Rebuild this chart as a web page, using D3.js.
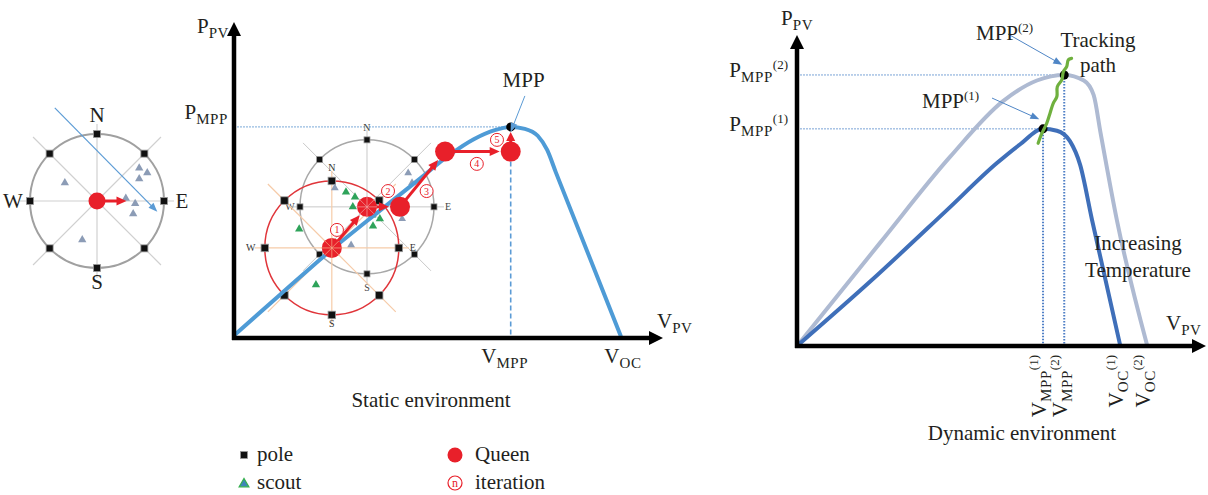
<!DOCTYPE html>
<html><head><meta charset="utf-8">
<script src="https://cdn.jsdelivr.net/npm/d3@7"></script>
<style>
html,body{margin:0;padding:0;background:#fff;}
svg{display:block;}
text{font-family:"Liberation Serif","DejaVu Serif",serif;fill:#231f20;}
</style></head><body>
<svg id="c" width="1208" height="495"></svg>
<script>
// ================= DATA =================
// Static environment P-V curve (V, P in % of axis length)
const staticV = [0, 11, 22.8, 34, 43.5, 50.3, 56, 60.8, 64.5, 67.8, 70.8, 73, 75, 90.2];
const staticP = [0.8, 14, 28, 40.3, 50.6, 58, 63, 65.8, 66.8, 66.2, 64, 59.5, 52.5, 0.5];
const staticMpp = [64.5, 66.8];
// Queen positions per iteration
const queenV = [22.8, 31, 38.7, 49.2, 64.5];
const queenP = [28.5, 41.5, 41.5, 59, 59];
const iterationLabels = ["1", "2", "3", "4", "5"];
const iterationV = [24.0, 35.9, 44.9, 56.6, 61.3];
const iterationP = [34.2, 46.5, 46.5, 55.1, 62.7];
// Scouts
const greenScoutV = [26.1, 28.2, 27.7, 15.2, 32.2, 34.0, 32.4, 19.1];
const greenScoutP = [46.2, 44.6, 41.5, 34.5, 38.9, 37.7, 35.4, 16.8];
const grayScoutV = [23.5, 40.6, 41.5, 39.2, 27.3];
const grayScoutP = [47.5, 52.2, 49.1, 37.7, 29.4];
const compassDirs = ["N", "E", "S", "W"];
// Left stand-alone compass (relative units of the radius)
const leftScoutX = [-0.48, 0.63, 0.75, 0.63, 0.43, 0.57, 0.54, -0.22];
const leftScoutY = [0.27, 0.49, 0.42, 0.33, 0.04, -0.04, -0.19, -0.58];
const leftMoveTo = [0.44, 0];
const leftWindFrom = [-0.63, 1.39];
const leftWindTo = [0.90, -0.16];
// Dynamic environment curves
const dyn1V = [0, 18, 36.8, 49.0, 54.7, 60.3, 63.7, 66.9, 69.4, 72.3, 79.2];
const dyn1P = [0, 21, 44.2, 59.4, 65.5, 70.5, 69.9, 66.5, 58.8, 41.0, 0.3];
const dyn2V = [0, 20.3, 37.5, 50.5, 58.8, 65.5, 70.3, 72.7, 74.4, 78.4, 85.8];
const dyn2P = [0, 33.4, 61.4, 79.5, 86.2, 88.0, 86.2, 81.5, 69.2, 40.9, 0.3];
const dynMppV = [60.3, 65.5];
const dynMppP = [70.5, 88.0];
const trackV = [59.1, 60.0, 61.2, 62.0, 62.8, 63.7, 63.8, 64.9, 65.3, 66.1, 66.5, 67.3];
const trackP = [65.8, 69.0, 72.3, 75.5, 78.8, 81.0, 84.2, 86.4, 89.1, 90.7, 92.9, 93.4];
const dynVocV = [79.2, 85.8];
const dynLabelIdx = ["(1)", "(2)"];

// ================= SETUP =================
const svg = d3.select("#c");
const RED = "#e8202a";
const serif = '"Liberation Serif","DejaVu Serif",serif';
const sans = '"Liberation Sans","DejaVu Sans",sans-serif';

function arrow(g, x1, y1, x2, y2, color, w, hl, hw) {
  const dx = x2 - x1, dy = y2 - y1, L = Math.hypot(dx, dy);
  const ux = dx / L, uy = dy / L;
  const bx = x2 - ux * hl, by = y2 - uy * hl;
  g.append("line").attr("x1", x1).attr("y1", y1)
    .attr("x2", x2 - ux * hl * 0.8).attr("y2", y2 - uy * hl * 0.8)
    .attr("stroke", color).attr("stroke-width", w);
  g.append("path").attr("d",
    `M${x2},${y2}L${bx - uy * hw / 2},${by + ux * hw / 2}L${bx + uy * hw / 2},${by - ux * hw / 2}Z`)
    .attr("fill", color);
}

function rich(g, x, y, parts, anchor, rotate) {
  const t = g.append("text").attr("text-anchor", anchor || "start");
  if (rotate) t.attr("transform", `translate(${x},${y}) rotate(${rotate})`);
  else t.attr("x", x).attr("y", y);
  let cur = 0;
  const off = { n: 0, sub: 5, sup: -8 };
  const fs = { n: 21, sub: 15, sup: 13 };
  parts.forEach(p => {
    const k = p[1] || "n";
    t.append("tspan").attr("dy", off[k] - cur).attr("font-size", fs[k])
      .attr("letter-spacing", k === "sub" ? 0.6 : 0).text(p[0]);
    cur = off[k];
  });
  return t;
}

function compass(g, cx, cy, r, o) {
  [0, 90].forEach(a => {
    const rad = a * Math.PI / 180, e = 1.15 * r;
    g.append("line").attr("x1", cx - Math.cos(rad) * e).attr("y1", cy - Math.sin(rad) * e)
      .attr("x2", cx + Math.cos(rad) * e).attr("y2", cy + Math.sin(rad) * e)
      .attr("stroke", o.line).attr("stroke-width", o.lw);
  });
  [45, 135].forEach(a => {
    const rad = a * Math.PI / 180, e = 1.35 * r;
    g.append("line").attr("x1", cx - Math.cos(rad) * e).attr("y1", cy - Math.sin(rad) * e)
      .attr("x2", cx + Math.cos(rad) * e).attr("y2", cy + Math.sin(rad) * e)
      .attr("stroke", o.line).attr("stroke-width", o.lw);
  });
  g.append("circle").attr("cx", cx).attr("cy", cy).attr("r", r)
    .attr("fill", "none").attr("stroke", o.circle).attr("stroke-width", o.cw);
  d3.range(8).forEach(i => {
    const a = i * Math.PI / 4;
    g.append("rect").attr("x", cx + Math.cos(a) * r - o.pole / 2).attr("y", cy + Math.sin(a) * r - o.pole / 2)
      .attr("width", o.pole).attr("height", o.pole).attr("fill", "#111")
      .attr("stroke", "#9a9a9a").attr("stroke-width", 0.8);
  });
  const dirAng = { N: [0, -1], E: [1, 0], S: [0, 1], W: [-1, 0] };
  compassDirs.forEach(d => {
    const v = dirAng[d];
    g.append("text").attr("x", cx + v[0] * (r + o.lo[d])).attr("y", cy + v[1] * (r + o.lo[d]))
      .attr("text-anchor", "middle").attr("dominant-baseline", "central")
      .attr("font-family", o.font).attr("font-size", o.fs).style("fill", o.tc).text(d);
  });
}

// ================= LEFT COMPASS =================
const lx = d3.scaleLinear().domain([-1, 1]).range([30, 164]);
const ly = d3.scaleLinear().domain([-1, 1]).range([268, 134]);
const gL = svg.append("g");
const lr = lx(1) - lx(0);
compass(gL, lx(0), ly(0), lr, { line: "#d0d0d0", lw: 1.2, circle: "#a0a0a0", cw: 2, pole: 7,
  lo: { N: 19, E: 18, S: 14, W: 17 }, font: serif, fs: 21, tc: "#231f20" });
arrow(gL, lx(leftWindFrom[0]), ly(leftWindFrom[1]), lx(leftWindTo[0]), ly(leftWindTo[1]), "#5b9bd5", 1.2, 9, 7);
leftScoutX.forEach((x, i) => {
  gL.append("path").attr("d", d3.symbol(d3.symbolTriangle, 30)())
    .attr("transform", `translate(${lx(x)},${ly(leftScoutY[i])})`).attr("fill", "#8c9cb6");
});
arrow(gL, lx(0), ly(0), lx(leftMoveTo[0]), ly(leftMoveTo[1]), RED, 3, 10, 9);
gL.append("circle").attr("cx", lx(0)).attr("cy", ly(0)).attr("r", 8.5).attr("fill", RED);

// ================= STATIC ENVIRONMENT =================
const sx = d3.scaleLinear().domain([0, 100]).range([234, 663]);
const sy = d3.scaleLinear().domain([0, 100]).range([338, 22]);
const gS = svg.append("g");
const QR = 10, CR = 67;
// reference lines
gS.append("line").attr("x1", sx(0)).attr("x2", sx(staticMpp[0])).attr("y1", sy(staticMpp[1])).attr("y2", sy(staticMpp[1]))
  .attr("stroke", "#7aaad8").attr("stroke-width", 1).attr("stroke-dasharray", "2,1");
gS.append("line").attr("x1", sx(queenV[4])).attr("x2", sx(queenV[4])).attr("y1", sy(queenP[4]) + QR).attr("y2", sy(0))
  .attr("stroke", "#5b9bd5").attr("stroke-width", 1.6).attr("stroke-dasharray", "5,3");
// compasses
compass(gS, sx(queenV[1]), sy(queenP[1]), CR, { line: "#c8c8c8", lw: 1, circle: "#a8a8a8", cw: 1.5, pole: 6,
  lo: { N: 12, E: 14, S: 14, W: 10 }, font: sans, fs: 10, tc: "#444" });
compass(gS, sx(queenV[0]), sy(queenP[0]), CR, { line: "#f6cba8", lw: 1.2, circle: "#e0353a", cw: 1.5, pole: 7.5,
  lo: { N: 13, E: 14, S: 9, W: 14 }, font: sans, fs: 10, tc: "#333" });
grayScoutV.forEach((v, i) => gS.append("path").attr("d", d3.symbol(d3.symbolTriangle, 26)())
  .attr("transform", `translate(${sx(v)},${sy(grayScoutP[i])})`).attr("fill", "#8c9cb6"));
greenScoutV.forEach((v, i) => gS.append("path").attr("d", d3.symbol(d3.symbolTriangle, 30)())
  .attr("transform", `translate(${sx(v)},${sy(greenScoutP[i])})`).attr("fill", "#2ea35a"));
// curve
const sline = d3.line().x(d => sx(d[0])).y(d => sy(d[1])).curve(d3.curveMonotoneX);
gS.append("path").attr("d", sline(staticV.map((v, i) => [v, staticP[i]])))
  .attr("fill", "none").attr("stroke", "#4e9bd6").attr("stroke-width", 4);
// axes
arrow(gS, sx(0), sy(0) + 2, sx(0), sy(100), "#000", 4.5, 14, 14);
arrow(gS, sx(0) - 2, sy(0), sx(100), sy(0), "#000", 4.5, 14, 14);
// iteration arrows
for (let i = 0; i < 4; i++) {
  const x1 = sx(queenV[i]), y1 = sy(queenP[i]), x2 = sx(queenV[i + 1]), y2 = sy(queenP[i + 1]);
  const L = Math.hypot(x2 - x1, y2 - y1);
  arrow(gS, x1, y1, x2 - (x2 - x1) / L * (QR + 1), y2 - (y2 - y1) / L * (QR + 1), RED, 3, 10, 9);
}
arrow(gS, sx(queenV[4]), sy(queenP[4]), sx(queenV[4]), sy(staticMpp[1]) + 5, RED, 3, 9, 9);
queenV.forEach((v, i) => gS.append("circle").attr("cx", sx(v)).attr("cy", sy(queenP[i])).attr("r", QR).attr("fill", RED));
[0, 1].forEach(i => {
  [0, 45, 90, 135].forEach(a => {
    const rad = a * Math.PI / 180;
    gS.append("line").attr("x1", sx(queenV[i]) - Math.cos(rad) * QR).attr("y1", sy(queenP[i]) - Math.sin(rad) * QR)
      .attr("x2", sx(queenV[i]) + Math.cos(rad) * QR).attr("y2", sy(queenP[i]) + Math.sin(rad) * QR)
      .attr("stroke", i ? "#f0a0a0" : "#f6b08a").attr("stroke-width", 0.7);
  });
});
gS.append("circle").attr("cx", sx(staticMpp[0])).attr("cy", sy(staticMpp[1])).attr("r", 4.5).attr("fill", "#000");
iterationLabels.forEach((t, i) => {
  gS.append("circle").attr("cx", sx(iterationV[i])).attr("cy", sy(iterationP[i])).attr("r", 6.5)
    .attr("fill", "#fff").attr("stroke", RED).attr("stroke-width", 1);
  gS.append("text").attr("x", sx(iterationV[i])).attr("y", sy(iterationP[i]) + 3.5).attr("text-anchor", "middle")
    .attr("font-family", sans).attr("font-size", 10).style("fill", RED).text(t);
});
// MPP annotation
arrow(gS, sx(67.8), sy(76.6), sx(staticMpp[0]), sy(staticMpp[1]) + 5, "#5b9bd5", 1, 9, 7);
gS.append("text").attr("x", sx(67.5)).attr("y", 87).attr("text-anchor", "middle").attr("font-size", 21).text("MPP");
rich(gS, 229, 33, [["P"], ["PV", "sub"]], "end");
rich(gS, 228, 119, [["P"], ["MPP", "sub"]], "end");
rich(gS, 657, 328, [["V"], ["PV", "sub"]], "start");
rich(gS, sx(queenV[4]) - 6, 363, [["V"], ["MPP", "sub"]], "middle");
rich(gS, sx(staticV[staticV.length - 1]) + 2, 363, [["V"], ["OC", "sub"]], "middle");
gS.append("text").attr("x", 431).attr("y", 407).attr("text-anchor", "middle").attr("font-size", 21).text("Static environment");

// legend
const gLeg = svg.append("g");
gLeg.append("rect").attr("x", 240.5).attr("y", 451.5).attr("width", 7).attr("height", 7).attr("fill", "#111")
  .attr("stroke", "#9a9a9a").attr("stroke-width", 0.8);
gLeg.append("text").attr("x", 257).attr("y", 461).attr("font-size", 21).text("pole");
gLeg.append("path").attr("d", d3.symbol(d3.symbolTriangle, 40)()).attr("transform", "translate(244,484)")
  .attr("fill", "#3f86b8").attr("stroke", "#35b04e").attr("stroke-width", 1.3);
gLeg.append("text").attr("x", 257).attr("y", 489).attr("font-size", 21).text("scout");
gLeg.append("circle").attr("cx", 455).attr("cy", 455).attr("r", 7.5).attr("fill", RED);
gLeg.append("text").attr("x", 475).attr("y", 461).attr("font-size", 21).text("Queen");
gLeg.append("circle").attr("cx", 455).attr("cy", 483).attr("r", 7).attr("fill", "#fff").attr("stroke", RED).attr("stroke-width", 1.2);
gLeg.append("text").attr("x", 455).attr("y", 487).attr("text-anchor", "middle").attr("font-size", 12).style("fill", RED).text("n");
gLeg.append("text").attr("x", 475).attr("y", 489).attr("font-size", 21).text("iteration");

// ================= DYNAMIC ENVIRONMENT =================
const dx = d3.scaleLinear().domain([0, 100]).range([797, 1205]);
const dy = d3.scaleLinear().domain([0, 100]).range([346, 38]);
const gD = svg.append("g");
dynMppV.forEach((v, i) => {
  gD.append("line").attr("x1", dx(0)).attr("x2", dx(v)).attr("y1", dy(dynMppP[i])).attr("y2", dy(dynMppP[i]))
    .attr("stroke", "#7aa3d6").attr("stroke-width", 1).attr("stroke-dasharray", "2,1");
  gD.append("line").attr("x1", dx(v)).attr("x2", dx(v)).attr("y1", dy(dynMppP[i])).attr("y2", dy(0))
    .attr("stroke", "#4f7fc6").attr("stroke-width", 2).attr("stroke-dasharray", "1.5,1.5");
});
const dline = d3.line().x(d => dx(d[0])).y(d => dy(d[1])).curve(d3.curveMonotoneX);
gD.append("path").attr("d", dline(dyn2V.map((v, i) => [v, dyn2P[i]])))
  .attr("fill", "none").attr("stroke", "#aebad2").attr("stroke-width", 4);
gD.append("path").attr("d", dline(dyn1V.map((v, i) => [v, dyn1P[i]])))
  .attr("fill", "none").attr("stroke", "#3f6fb9").attr("stroke-width", 4);
arrow(gD, dx(0), dy(0) + 2, dx(0), dy(100) - 3, "#000", 4.5, 14, 14);
arrow(gD, dx(0) - 2, dy(0), dx(100) + 1, dy(0), "#000", 4.5, 14, 14);
dynMppV.forEach((v, i) => gD.append("circle").attr("cx", dx(v)).attr("cy", dy(dynMppP[i])).attr("r", 4.5).attr("fill", "#000"));
const tline = d3.line().x(d => dx(d[0])).y(d => dy(d[1])).curve(d3.curveCatmullRom);
gD.append("path").attr("d", tline(trackV.map((v, i) => [v, trackP[i]])))
  .attr("fill", "none").attr("stroke", "#6fb03e").attr("stroke-width", 3.2).attr("stroke-linecap", "round");
// annotations
arrow(gD, dx(51.7), dy(101.3), dx(65.0), dy(91.3), "#4f86c6", 1, 9, 7);
arrow(gD, dx(47.8), dy(80.5), dx(59.4), dy(73.6), "#4f86c6", 1, 9, 7);
rich(gD, 976, 40, [["MPP"], ["(2)", "sup"]], "start");
rich(gD, 922, 108, [["MPP"], ["(1)", "sup"]], "start");
gD.append("text").attr("x", 1098).attr("y", 47).attr("text-anchor", "middle").attr("font-size", 21).text("Tracking");
gD.append("text").attr("x", 1098).attr("y", 72).attr("text-anchor", "middle").attr("font-size", 21).text("path");
gD.append("text").attr("x", 1138).attr("y", 250).attr("text-anchor", "middle").attr("font-size", 21).text("Increasing");
gD.append("text").attr("x", 1138).attr("y", 277).attr("text-anchor", "middle").attr("font-size", 21).text("Temperature");
rich(gD, 781, 25, [["P"], ["PV", "sub"]], "start");
rich(gD, 1166, 330, [["V"], ["PV", "sub"]], "start");
dynMppV.forEach((v, i) => {
  rich(gD, 788, dy(dynMppP[i]) + 2, [["P"], ["MPP", "sub"], [dynLabelIdx[i], "sup"]], "end");
  rich(gD, dx(v) + 3, 355, [["V"], ["MPP", "sub"], [dynLabelIdx[i], "sup"]], "end", -90);
  rich(gD, dx(dynVocV[i]) + 3, 355, [["V"], ["OC", "sub"], [dynLabelIdx[i], "sup"]], "end", -90);
});
gD.append("text").attr("x", 1022).attr("y", 440).attr("text-anchor", "middle").attr("font-size", 21).text("Dynamic environment");
</script></body></html>
